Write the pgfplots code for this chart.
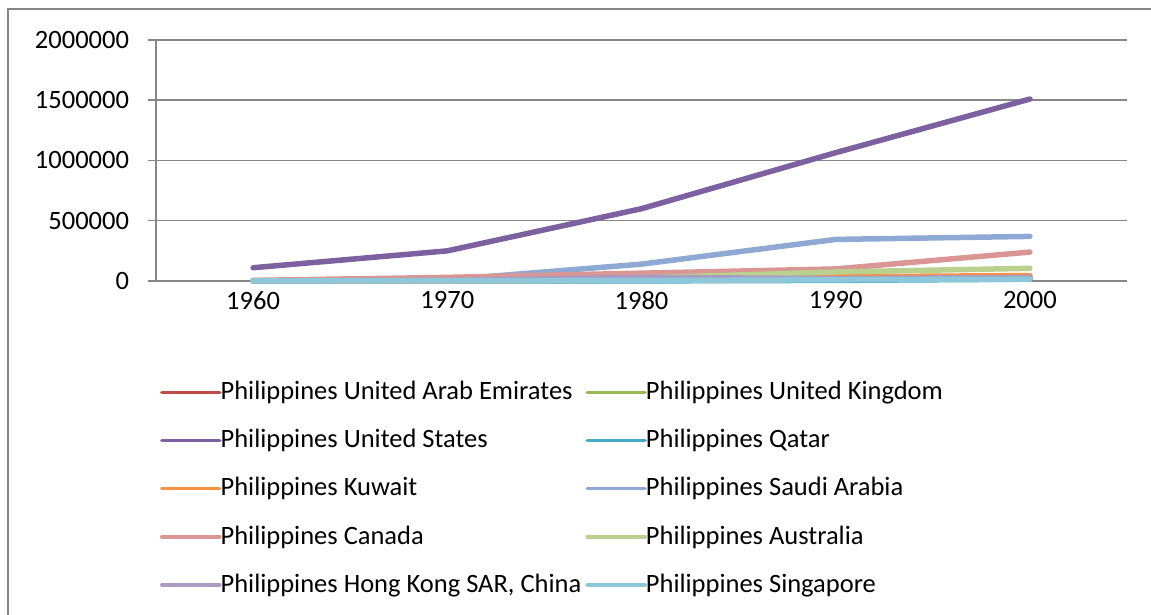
\documentclass[border=0pt]{standalone}
\usepackage{pgfplots}
\pgfplotsset{compat=1.18}
\usepackage{fontspec}
\setmainfont{Carlito}
\definecolor{gridc}{HTML}{878787}
\definecolor{cUAE}{HTML}{BE4B48}
\definecolor{cUK}{HTML}{98B954}
\definecolor{cUS}{HTML}{7D60A0}
\definecolor{cQA}{HTML}{46AAC5}
\definecolor{cKW}{HTML}{F69240}
\definecolor{cSA}{HTML}{8EA9D4}
\definecolor{cCA}{HTML}{D99694}
\definecolor{cAU}{HTML}{B9D08F}
\definecolor{cHK}{HTML}{A99BC4}
\definecolor{cSG}{HTML}{8DC7DA}
\begin{document}
\begin{tikzpicture}[x=1bp,y=1bp]
\fontsize{26.5bp}{30bp}\selectfont
\useasboundingbox (0,0) rectangle (1151,615);
\draw[gridc, line width=1.5bp] (8,0) -- (8,606) -- (1151,606);
\begin{axis}[
  at={(156bp,334bp)}, anchor=south west,
  scale only axis, width=971bp, height=241bp,
  xmin=-0.5, xmax=4.5, ymin=0, ymax=2000000,
  axis lines=left, axis line style={-, gridc, line width=1.5bp},
  xtick={0,1,2,3,4}, xticklabels={1960,1970,1980,1990,2000},
  x tick style={draw=none},
  extra x ticks={-0.5,0.5,1.5,2.5,3.5,4.5}, extra x tick labels={},
  extra x tick style={tick style={gridc, line width=1.5bp}, major tick length=8bp, tick align=outside, grid=none},
  ytick={0,500000,1000000,1500000,2000000},
  y tick style={gridc, line width=1.5bp}, major tick length=8bp, tick align=outside,
  ymajorgrids, grid style={gridc, line width=1.5bp},
  scaled y ticks=false,
  yticklabel style={/pgf/number format/fixed, /pgf/number format/1000 sep={}, /pgf/number format/assume math mode=true, font=\fontsize{26.5bp}{30bp}\selectfont},
  xticklabel style={font=\fontsize{26.5bp}{30bp}\selectfont},
  y tick label style={xshift=-10bp},
  x tick label style={yshift=6.5bp},
  clip=false,
  legend columns=2,
  legend cell align=left,
  legend style={at={(0.004,-0.407)}, anchor=north west, draw=none, fill=none,
    font=\fontsize{26.5bp}{30bp}\selectfont, row sep=21.75bp,
    nodes={inner xsep=1bp},
    /tikz/every even column/.append style={column sep=3bp},
    inner sep=0pt},
  legend image code/.code={\draw[#1, line width=3.5bp] (0bp,0bp) -- (56bp,0bp);\draw[#1, line width=3.5bp, overlay] (55bp,0bp) -- (58bp,0bp);},
  every axis plot/.append style={line width=5.5bp, line cap=round, line join=round},
]
\addplot[cUAE] coordinates {(0,0) (1,1000) (2,5000) (3,15000) (4,25000)};
\addlegendentry{Philippines United Arab Emirates}
\addplot[cUK] coordinates {(0,2000) (1,5000) (2,10000) (3,20000) (4,30000)};
\addlegendentry{Philippines United Kingdom}
\addplot[cUS] coordinates {(0,110000) (1,250000) (2,600000) (3,1065000) (4,1510000)};
\addlegendentry{Philippines United States}
\addplot[cQA] coordinates {(0,0) (1,0) (2,1000) (3,5000) (4,15000)};
\addlegendentry{Philippines Qatar}
\addplot[cKW] coordinates {(0,0) (1,500) (2,10000) (3,35000) (4,45000)};
\addlegendentry{Philippines Kuwait}
\addplot[cSA] coordinates {(0,0) (1,10000) (2,140000) (3,345000) (4,370000)};
\addlegendentry{Philippines Saudi Arabia}
\addplot[cCA] coordinates {(0,5000) (1,30000) (2,65000) (3,100000) (4,240000)};
\addlegendentry{Philippines Canada}
\addplot[cAU] coordinates {(0,0) (1,3000) (2,25000) (3,75000) (4,105000)};
\addlegendentry{Philippines Australia}
\addplot[cHK] coordinates {(0,0) (1,5000) (2,30000) (3,20000) (4,30000)};
\addlegendentry{Philippines Hong Kong SAR, China}
\addplot[cSG] coordinates {(0,0) (1,1000) (2,3000) (3,10000) (4,15000)};
\addlegendentry{Philippines Singapore}
\end{axis}
\end{tikzpicture}
\end{document}
